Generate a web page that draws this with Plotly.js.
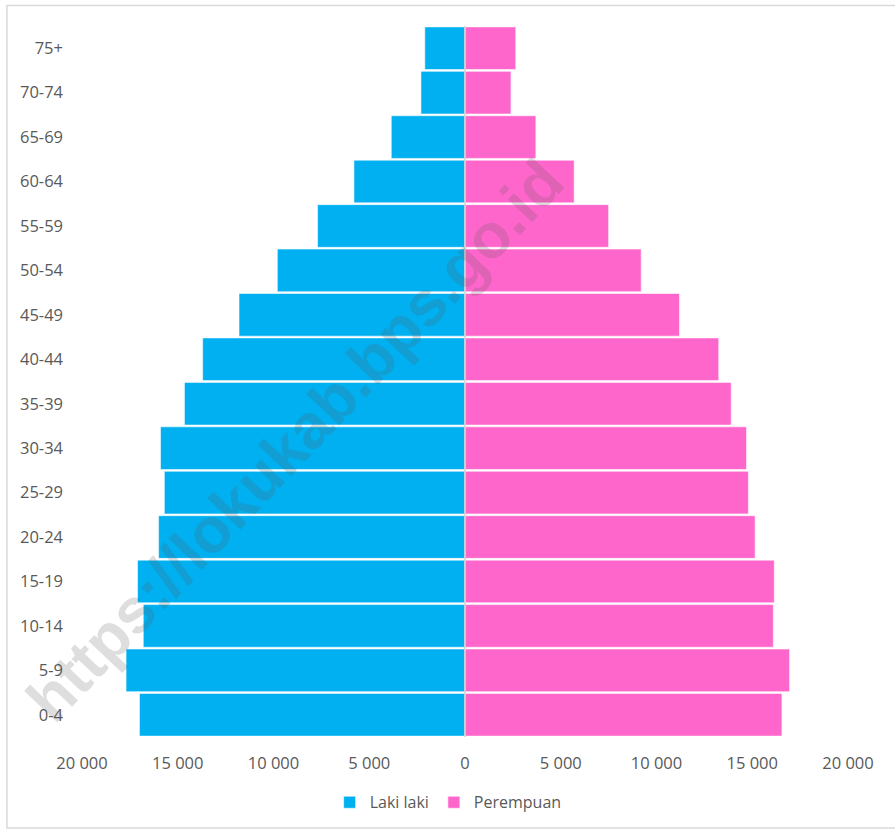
<!DOCTYPE html>
<html>
<head>
<meta charset="utf-8">
<script src="https://cdn.plot.ly/plotly-3.0.1.min.js"></script>
<style>
html,body{margin:0;padding:0;background:#fff;}
#chart{width:895px;height:832px;}
</style>
</head>
<body>
<div id="chart"></div>
<script>
const ageGroups = ["0-4","5-9","10-14","15-19","20-24","25-29","30-34","35-39","40-44","45-49","50-54","55-59","60-64","65-69","70-74","75+"];
const maleValues = [17000,17700,16800,17100,16000,15700,15900,14650,13700,11800,9800,7700,5800,3850,2300,2100];
const femaleValues = [16550,16950,16100,16150,15150,14800,14700,13900,13250,11200,9200,7500,5700,3700,2400,2650];
const tickValues = [-20000,-15000,-10000,-5000,0,5000,10000,15000,20000];
const tickLabels = ["20 000","15 000","10 000","5 000","0","5 000","10 000","15 000","20 000"];
const seriesNames = ["Laki laki","Perempuan"];
const watermarkText = "https://lokukab.bps.go.id";

const font = "'Open Sans', 'Noto Sans', sans-serif";

const traces = [
  {
    type: "bar", orientation: "h",
    y: ageGroups, x: maleValues.map(v => -v),
    name: seriesNames[0],
    marker: {color: "#00B0F0", line: {color: "rgba(255,255,255,0.55)", width: 1}},
    hoverinfo: "skip"
  },
  {
    type: "bar", orientation: "h",
    y: ageGroups, x: femaleValues,
    name: seriesNames[1],
    marker: {color: "#FF66CC", line: {color: "rgba(255,255,255,0.55)", width: 1}},
    hoverinfo: "skip"
  }
];

const layout = {
  width: 895, height: 832,
  paper_bgcolor: "#fff", plot_bgcolor: "#fff",
  margin: {l: 82, r: 47, t: 26, b: 95},
  barmode: "relative",
  bargap: 0.04,
  font: {family: font, size: 14, color: "#595959"},
  xaxis: {
    range: [-20000, 20000],
    tickvals: tickValues, ticktext: tickLabels,
    showgrid: false, zeroline: false, showline: false,
    ticks: "", ticklabelstandoff: 14,
    tickfont: {family: font, size: 16.5, color: "#595959"},
    fixedrange: true
  },
  yaxis: {
    type: "category",
    categoryorder: "array", categoryarray: ageGroups,
    showgrid: false, zeroline: false, showline: false,
    ticks: "", ticklabelstandoff: 18,
    tickfont: {family: font, size: 16.5, color: "#595959"},
    fixedrange: true
  },
  showlegend: true,
  legend: {
    orientation: "h", x: 0.478, xanchor: "center", y: -0.068, yanchor: "top",
    font: {family: font, size: 16, color: "#595959"},
    itemwidth: 30, traceorder: "normal"
  },
  shapes: [
    {type: "line", xref: "x", yref: "paper", x0: 0, x1: 0, y0: 0, y1: 1,
     line: {color: "#D0D0D0", width: 1.5}},
    {type: "rect", xref: "paper", yref: "paper",
     x0: -0.098, x1: 1.07, y0: -0.128, y1: 1.029,
     line: {color: "#D9D9D9", width: 1.5}, fillcolor: "rgba(0,0,0,0)"}
  ],
  annotations: [
    {text: "<b>" + watermarkText + "</b>", xref: "paper", yref: "paper",
     x: 0.278, y: 0.418, xanchor: "center", yanchor: "middle",
     showarrow: false, textangle: -46.5,
     font: {family: "Liberation Sans, Arial, sans-serif", size: 63, color: "rgba(90,90,90,0.2)"}}
  ]
};

Plotly.newPlot("chart", traces, layout, {displayModeBar: false, staticPlot: true});
</script>
</body>
</html>
